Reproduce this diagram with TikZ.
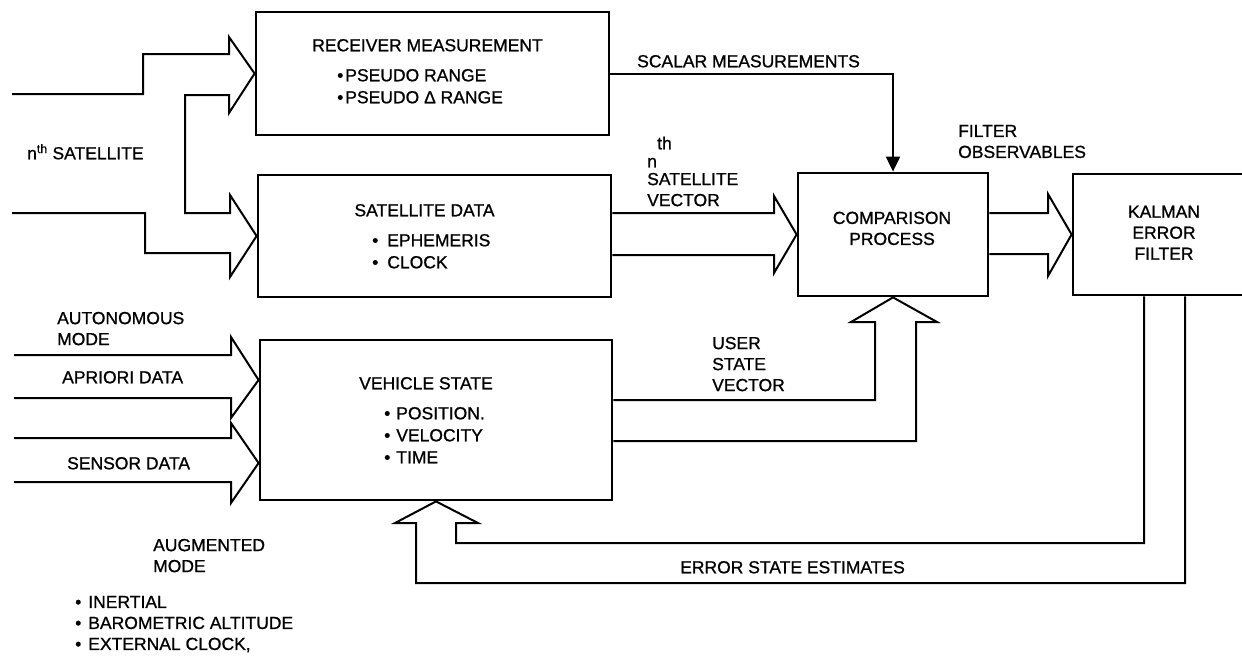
\documentclass[tikz,border=0pt]{standalone}
\usepackage{fontspec}
\setmainfont{Liberation Sans}[FakeBold=0.9]
\usetikzlibrary{arrows.meta,calc}
\begin{document}
\begin{tikzpicture}[x=1pt,y=-1pt,
  box/.style={draw,line width=2.8pt,inner sep=0pt},
  conn/.style={line width=2pt,line join=miter},
  txt/.style={inner sep=0pt,font=\fontsize{17.5}{21}\selectfont,text height=12.6pt,text depth=0pt},
  mtxt/.style={inner sep=0pt,font=\fontsize{17.5}{21}\selectfont,align=left,anchor=north west},
  ctxt/.style={inner sep=0pt,font=\fontsize{17.5}{21}\selectfont,align=center,anchor=north}]
\clip (0,0) rectangle (1242,657);
\fill[white] (0,0) rectangle (1242,657);
% boxes
\node[box,minimum width=353pt,minimum height=123pt] (rec) at (432.5,73.5) {};
\node[box,minimum width=353pt,minimum height=122pt] (sat) at (434.5,236) {};
\node[box,minimum width=352pt,minimum height=160pt] (veh) at (436,420) {};
\node[box,minimum width=190pt,minimum height=123pt] (cmp) at (893,234.5) {};
\node[box,minimum width=189pt,minimum height=121pt] (kal) at (1167.5,234.5) {};
% box texts
\node[txt] (rect) at (427.5,45) {RECEIVER MEASUREMENT};
\node[txt,anchor=west] (rec1) at (337,75) {\textbullet\hspace{2pt}PSEUDO RANGE};
\node[txt,anchor=west] (rec2) at (337,97) {\textbullet\hspace{2pt}PSEUDO Δ RANGE};
\node[txt] (satt) at (424.5,210) {SATELLITE DATA};
\node[txt,anchor=west] (sat1) at (372,240) {\textbullet\hspace{9pt}EPHEMERIS};
\node[txt,anchor=west] (sat2) at (372,262) {\textbullet\hspace{9pt}CLOCK};
\node[txt] (veht) at (426,383) {VEHICLE STATE};
\node[txt,anchor=west] (veh1) at (384,413) {\textbullet\hspace{6pt}POSITION.};
\node[txt,anchor=west] (veh2) at (384,435) {\textbullet\hspace{6pt}VELOCITY};
\node[txt,anchor=west] (veh3) at (384,457) {\textbullet\hspace{6pt}TIME};
\node[ctxt] (cmpt) at (892,211.5) {COMPARISON\\PROCESS};
\node[ctxt] (kalt) at (1164,205.5) {KALMAN\\ERROR\\FILTER};
% inputs from nth satellite
\coordinate (s1) at (12,94);
\coordinate (s2) at (12,213);
\draw[conn] (s1) -- (143,94) -- (143,54) -- (229,54) -- (229,37) -- (rec.west)
  -- (229,113) -- (229,95) -- (185,95) -- (185,213) -- (230,213) -- (230,195)
  -- (sat.west) -- (230,277) -- (230,253) -- (145,253) -- (145,213) -- (s2);
\node[txt,anchor=west] (nsat) at (27,153) {n\textsuperscript{th} SATELLITE};
% vehicle inputs
\coordinate (v1) at (14,355);
\coordinate (v2) at (14,398);
\coordinate (v3) at (14,438);
\coordinate (v4) at (14,482);
\draw[conn] (v1) -- (231,355) -- (231,337) -- ($(veh.west)+(0,-40)$) -- (231,418) -- (231,398) -- (v2);
\draw[conn] (v3) -- (231,438) -- (231,423) -- ($(veh.west)+(0,43)$) -- (231,503) -- (231,482) -- (v4);
\node[mtxt] (auto) at (57,311.7) {AUTONOMOUS\\MODE};
\node[txt,anchor=west] (apri) at (62,377) {APRIORI DATA};
\node[txt,anchor=west] (sens) at (67,463) {SENSOR DATA};
\node[mtxt] (aug) at (153,538.7) {AUGMENTED\\MODE};
\node[mtxt] (augl) at (75,595.7) {\textbullet\hspace{7pt}INERTIAL\\\textbullet\hspace{7pt}BAROMETRIC ALTITUDE\\\textbullet\hspace{7pt}EXTERNAL CLOCK,};
% scalar measurements
\draw[conn,-{Triangle[length=15pt,width=14pt]}] (rec.east) -- (rec.east -| cmp.north) -- (cmp.north);
\node[txt,anchor=west] (scal) at (637,61) {SCALAR MEASUREMENTS};
% satellite vector
\draw[conn] ($(sat.east)+(0,-23)$) -- (774,213) -- (774,196) -- (cmp.west) -- (774,273) -- (774,255) -- ($(sat.east)+(0,19)$);
\node[txt,anchor=west] (th) at (657,143) {th};
\node[txt,anchor=west] (nn) at (647,161) {n};
\node[mtxt] (svec) at (647,172.7) {SATELLITE\\VECTOR};
% filter observables
\draw[conn] ($(cmp.east)+(0,-21.5)$) -- (1048,213) -- (1048,194) -- (kal.west) -- (1048,276) -- (1048,254) -- ($(cmp.east)+(0,19.5)$);
\node[mtxt] (fobs) at (958,124.7) {FILTER\\OBSERVABLES};
% user state vector
\draw[conn] ($(veh.east)+(0,-20)$) -- (875,400) -- (875,322) -- (851,322) -- (cmp.south)
  -- (937,322) -- (916,322) -- (916,441) -- ($(veh.east)+(0,21)$);
\node[mtxt] (usv) at (712,336.7) {USER\\STATE\\VECTOR};
% error state estimates
\draw[conn] ($(kal.south)+(-23.5,0)$) -- (1144,543) -- (456,543) -- (456,523) -- (478,523) -- (veh.south)
  -- (395,523) -- (416,523) -- (416,583) -- (1185,583) -- ($(kal.south)+(17.5,0)$);
\node[txt,anchor=west] (ese) at (680,567) {ERROR STATE ESTIMATES};
\end{tikzpicture}
\end{document}
